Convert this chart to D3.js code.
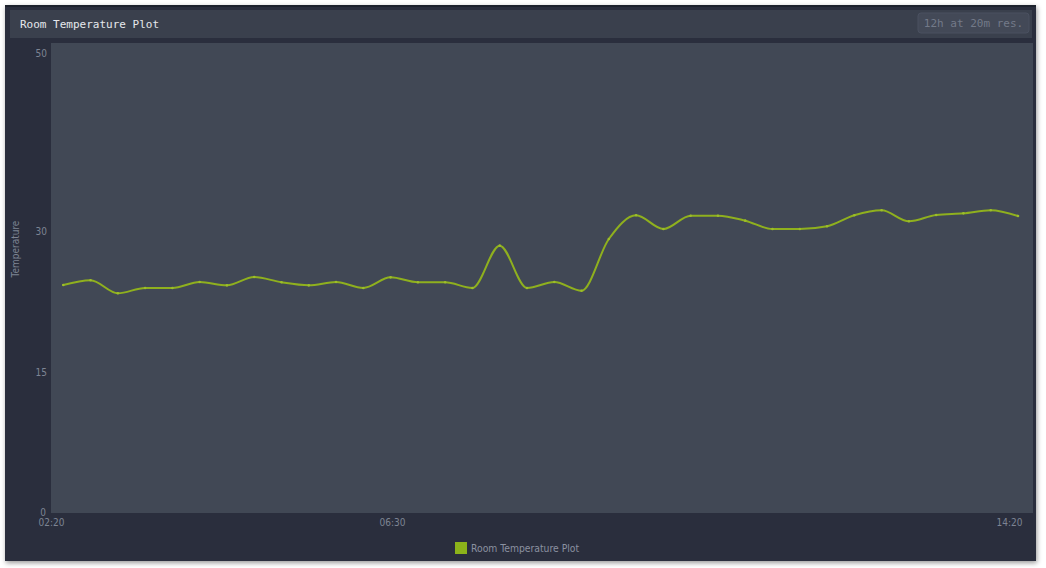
<!DOCTYPE html>
<html>
<head>
<meta charset="utf-8">
<script src="https://cdn.jsdelivr.net/npm/d3@7"></script>
<style>
  html, body { margin: 0; padding: 0; background: #ffffff; }
  svg { display: block; }
</style>
</head>
<body>
<svg id="chart" width="1046" height="568"></svg>
<script>
// ---- data ----
const chartTitle = "Room Temperature Plot";
const resolutionLabel = "12h at 20m res.";
const yAxisTitle = "Temperature";
const seriesName = "Room Temperature Plot";
const times = ["02:29","02:49","03:09","03:29","03:49","04:09","04:29","04:49","05:09","05:29",
               "05:49","06:09","06:29","06:49","07:09","07:29","07:49","08:09","08:29","08:49",
               "09:09","09:29","09:49","10:09","10:29","10:49","11:09","11:29","11:49","12:09",
               "12:29","12:49","13:09","13:29","13:49","14:09"];
const temperatures = [24.26,24.76,23.37,23.94,23.94,24.57,24.22,25.11,24.54,24.22,
                      24.57,23.94,25.07,24.54,24.54,23.94,28.44,23.94,24.57,23.65,
                      29.15,31.67,30.21,31.63,31.63,31.10,30.21,30.21,30.50,31.67,
                      32.20,31.03,31.70,31.88,32.20,31.60];
const xDomainLabels = ["02:20","14:20"];
const xTickLabels = ["02:20","06:30","14:20"];
const yTickValues = [0,15,30,50];
const yDomain = [0,50];

// ---- helpers ----
const parse = d3.timeParse("%Y-%m-%d %H:%M");
const toDate = t => parse("2024-01-01 " + t);
const data = times.map((t, i) => ({ t: toDate(t), v: temperatures[i] }));

const svg = d3.select("#chart");

// drop shadow
const defs = svg.append("defs");
const f = defs.append("filter").attr("id", "shadow").attr("x", "-5%").attr("y", "-5%").attr("width", "110%").attr("height", "112%");
f.append("feDropShadow").attr("dx", 1).attr("dy", 2).attr("stdDeviation", 2.5).attr("flood-color", "#000").attr("flood-opacity", 0.4);

// panel
svg.append("rect").attr("x", 5).attr("y", 5).attr("width", 1031).attr("height", 556)
  .attr("fill", "#292f3d").attr("filter", "url(#shadow)");
svg.append("rect").attr("x", 5).attr("y", 5).attr("width", 1031).attr("height", 2).attr("fill", "#1d222d");

// title bar
svg.append("rect").attr("x", 10).attr("y", 10).attr("width", 1022).attr("height", 28).attr("fill", "#3a404d");
svg.append("text").attr("x", 20).attr("y", 28)
  .attr("font-family", "DejaVu Sans Mono, monospace").attr("font-size", 11)
  .attr("fill", "#e6e8ec").text(chartTitle);

// resolution badge
svg.append("rect").attr("x", 918).attr("y", 13).attr("width", 111).attr("height", 20).attr("rx", 3)
  .attr("fill", "#434957").attr("stroke", "#4a5060").attr("stroke-width", 1);
svg.append("text").attr("x", 973.5).attr("y", 27).attr("text-anchor", "middle")
  .attr("font-family", "DejaVu Sans Mono, monospace").attr("font-size", 11)
  .attr("fill", "#737a89").text(resolutionLabel);

// plot area
const plot = { left: 51, right: 1033, top: 43, bottom: 513 };
svg.append("rect").attr("x", plot.left).attr("y", plot.top)
  .attr("width", plot.right - plot.left).attr("height", plot.bottom - plot.top)
  .attr("fill", "#414855");

const x = d3.scaleTime().domain(xDomainLabels.map(toDate)).range([plot.left, plot.right]);
const y = d3.scaleLinear().domain(yDomain).range([plot.bottom, plot.top]);

const tickFont = "Liberation Sans Narrow, Arial Narrow, DejaVu Sans Condensed, sans-serif";
const tickColor = "#7d8493";

// y axis
const yAxis = svg.append("g").attr("transform", `translate(${plot.left},0)`)
  .call(d3.axisLeft(y).tickValues(yTickValues).tickSize(0).tickPadding(4).tickFormat(d3.format("d")));
yAxis.select(".domain").remove();
yAxis.selectAll("text").attr("font-family", tickFont).attr("font-size", 10).attr("fill", tickColor)
  .attr("dx", d => d === yDomain[0] ? -1 : 0)
  .attr("dy", d => d === yDomain[1] ? "1.3em" : (d === yDomain[0] ? "0.25em" : "0.32em"));

// x axis
const xAxis = svg.append("g").attr("transform", `translate(0,${plot.bottom})`)
  .call(d3.axisBottom(x).tickValues(xTickLabels.map(toDate)).tickSize(0).tickPadding(6)
    .tickFormat(d3.timeFormat("%H:%M")));
xAxis.select(".domain").remove();
xAxis.selectAll("text").attr("font-family", tickFont).attr("font-size", 10).attr("fill", tickColor)
  .attr("text-anchor", (d, i) => i === xTickLabels.length - 1 ? "end" : "middle")
  .attr("dx", (d, i) => i === xTickLabels.length - 1 ? -11 : 0);

// y axis title
svg.append("text").attr("transform", "translate(19,249) rotate(-90)").attr("text-anchor", "middle")
  .attr("font-family", tickFont).attr("font-size", 10).attr("fill", tickColor).text(yAxisTitle);

// line
const line = d3.line().x(d => x(d.t)).y(d => y(d.v)).curve(d3.curveMonotoneX);
svg.append("path").datum(data).attr("d", line)
  .attr("fill", "none").attr("stroke", "#8fb01e").attr("stroke-width", 2)
  .attr("stroke-linejoin", "round").attr("stroke-linecap", "round");
svg.append("g").selectAll("circle").data(data).join("circle")
  .attr("cx", d => x(d.t)).attr("cy", d => y(d.v)).attr("r", 1.3).attr("fill", "#9cbd2a");

// legend
const lg = svg.append("g").attr("transform", "translate(455,542)");
lg.append("rect").attr("width", 12).attr("height", 12).attr("fill", "#8cb31a");
lg.append("text").attr("x", 16).attr("y", 10)
  .attr("font-family", tickFont).attr("font-size", 10.3).attr("fill", "#8a91a0").text(seriesName);
</script>
</body>
</html>
